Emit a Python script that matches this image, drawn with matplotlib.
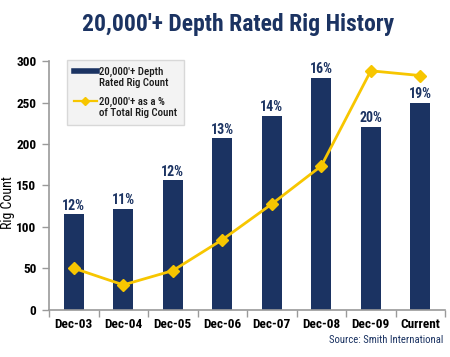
import matplotlib
matplotlib.use("Agg")
import matplotlib.pyplot as plt
from matplotlib.lines import Line2D
from matplotlib.legend_handler import HandlerLine2D
import numpy as np

# data
periods = ["Dec-03", "Dec-04", "Dec-05", "Dec-06", "Dec-07", "Dec-08", "Dec-09", "Current"]
rig_count = [115, 122, 156, 207, 234, 280, 221, 250]
pct_share = [11.7, 11.0, 11.6, 12.9, 14.4, 16.0, 20.0, 19.8]
pct_labels = ["12%", "11%", "12%", "13%", "14%", "16%", "20%", "19%"]

NAVY = "#1b3362"
GOLD = "#f7c600"
GRID = "#9a9a9a"


class RaisedLine(HandlerLine2D):
    # put the legend handle next to the first line of a two-line label
    def __init__(self, lift=4.8, **kw):
        super().__init__(**kw)
        self.lift = lift

    def create_artists(self, legend, orig_handle, xdescent, ydescent,
                       width, height, fontsize, trans):
        return super().create_artists(legend, orig_handle, xdescent,
                                      ydescent - 2 * self.lift, width, height,
                                      fontsize, trans)


plt.rcParams["font.family"] = ["Liberation Sans Narrow", "Roboto Condensed",
                               "Liberation Sans", "DejaVu Sans"]
plt.rcParams["font.weight"] = "bold"

fig = plt.figure(figsize=(4.5, 3.57), dpi=100)
ax = fig.add_axes([0.109, 0.132, 0.880, 0.697])

x = np.arange(len(periods))
ax.bar(x, rig_count, width=0.41, color=NAVY, zorder=2)

ax.set_xlim(-0.5, len(periods) - 0.5)
ax.set_ylim(0, 300)
ax.set_yticks(range(0, 301, 50))
ax.tick_params(axis="y", labelsize=9.5, length=5, width=1, color=GRID, pad=4)
ax.set_xticks(x)
ax.set_xticklabels(periods)
ax.tick_params(axis="x", which="major", length=0, labelsize=9.5, pad=6)
ax.set_xticks(np.arange(-0.5, len(periods)), minor=True)
ax.tick_params(axis="x", which="minor", length=5, width=1, color=GRID, direction="out")
for s in ("top", "right"):
    ax.spines[s].set_visible(False)
for s in ("left", "bottom"):
    ax.spines[s].set_color(GRID)
    ax.spines[s].set_linewidth(1.2)
ax.set_ylabel("Rig Count", fontsize=10)
ax.yaxis.set_label_coords(-0.086, 0.43)

# percent labels above bars
for xi, h, lab in zip(x, rig_count, pct_labels):
    ax.text(xi, h + 2, lab, ha="center", va="bottom", color=NAVY, fontsize=10)

# share of total rig count on a hidden secondary scale
ax2 = ax.twinx()
ax2.set_ylim(9.95, 20.41)
ax2.axis("off")
line, = ax2.plot(x, pct_share, color=GOLD, lw=2, marker="D", ms=6,
                 mec=GOLD, mfc=GOLD, zorder=3)

bar_key = Line2D([], [], color=NAVY, lw=4)
line_key = Line2D([], [], color=GOLD, lw=1.6, marker="D", ms=4.5, mec=GOLD, mfc=GOLD)
leg = ax.legend([bar_key, line_key],
                ["20,000'+ Depth\nRated Rig Count", "20,000'+ as a %\nof Total Rig Count"],
                handler_map={bar_key: RaisedLine(), line_key: RaisedLine()},
                loc="upper left", bbox_to_anchor=(0.045, 1.006),
                fontsize=7.8, frameon=True, fancybox=False,
                handlelength=2.1, handletextpad=0.2, borderpad=0.65,
                labelspacing=0.75, borderaxespad=0)
leg.get_frame().set_facecolor("#f1f1f1")
leg.get_frame().set_edgecolor("#d0d0d0")
for t in leg.get_texts():
    t.set_fontweight("medium")
    t.set_color("#1a1a1a")

fig.text(0.528, 0.932, "20,000'+ Depth Rated Rig History", ha="center", va="center",
         color=NAVY, fontsize=17)
fig.text(0.985, 0.047, "Source: Smith International", ha="right", va="center",
         color=NAVY, fontsize=7.7, fontweight="normal")

fig.savefig("out.png", dpi=100)
